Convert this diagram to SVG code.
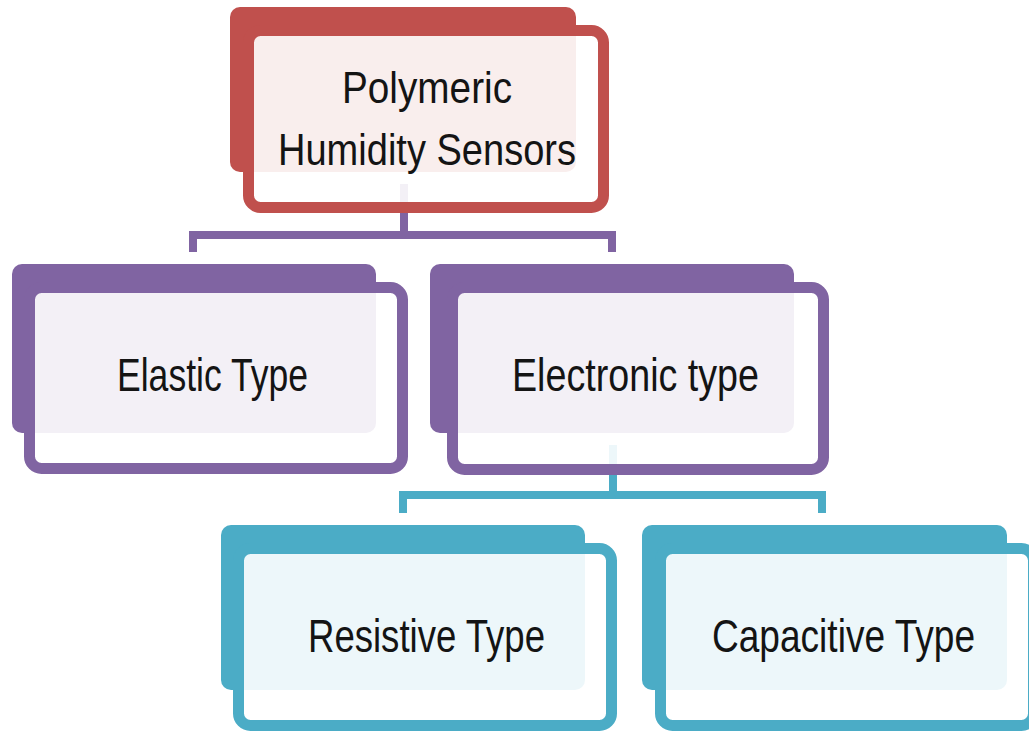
<svg xmlns="http://www.w3.org/2000/svg" width="1029" height="731" viewBox="0 0 1029 731">
<style>
.front{fill:#ffffff;fill-opacity:0.9;stroke-width:11}
.lbl{font-family:"Liberation Sans",Arial,sans-serif;fill:#141414;text-anchor:middle}
.conn{fill:none;stroke-width:8;stroke-linejoin:miter}
</style>
<rect width="1029" height="731" fill="#ffffff"/>
<g id="connectors">
<path class="conn" stroke="#8064A2" d="M404,184 V235 M193,252 V235 H612 V252"/>
<path class="conn" stroke="#4BACC6" d="M613,445 V495 M403,513 V495 H822 V513"/>
</g>
<g id="node-polymeric">
<rect x="230" y="7" width="346" height="165" rx="10" fill="#C0504D"/>
<rect class="front" x="248.5" y="30.5" width="355" height="177" rx="12" stroke="#C0504D"/>
<text class="lbl" x="427" y="103" font-size="44" textLength="170" lengthAdjust="spacingAndGlyphs">Polymeric</text>
<text class="lbl" x="427" y="165" font-size="44" textLength="298" lengthAdjust="spacingAndGlyphs">Humidity Sensors</text>
</g>
<g id="node-elastic">
<rect x="12" y="264" width="364" height="169" rx="10" fill="#8064A2"/>
<rect class="front" x="29.5" y="287.5" width="373" height="181" rx="12" stroke="#8064A2"/>
<text class="lbl" x="212.5" y="391" font-size="46" textLength="191" lengthAdjust="spacingAndGlyphs">Elastic Type</text>
</g>
<g id="node-electronic">
<rect x="430" y="264" width="364" height="169" rx="10" fill="#8064A2"/>
<rect class="front" x="452.5" y="287.5" width="371" height="182" rx="12" stroke="#8064A2"/>
<text class="lbl" x="635.5" y="391" font-size="46" textLength="247" lengthAdjust="spacingAndGlyphs">Electronic type</text>
</g>
<g id="node-resistive">
<rect x="221" y="525" width="364" height="165" rx="10" fill="#4BACC6"/>
<rect class="front" x="238.5" y="548.5" width="373" height="177" rx="12" stroke="#4BACC6"/>
<text class="lbl" x="426.5" y="652" font-size="46" textLength="237" lengthAdjust="spacingAndGlyphs">Resistive Type</text>
</g>
<g id="node-capacitive">
<rect x="642" y="525" width="365" height="165" rx="10" fill="#4BACC6"/>
<rect class="front" x="660.5" y="548.5" width="373" height="177" rx="12" stroke="#4BACC6"/>
<text class="lbl" x="843.5" y="652" font-size="46" textLength="263" lengthAdjust="spacingAndGlyphs">Capacitive Type</text>
</g>
</svg>
